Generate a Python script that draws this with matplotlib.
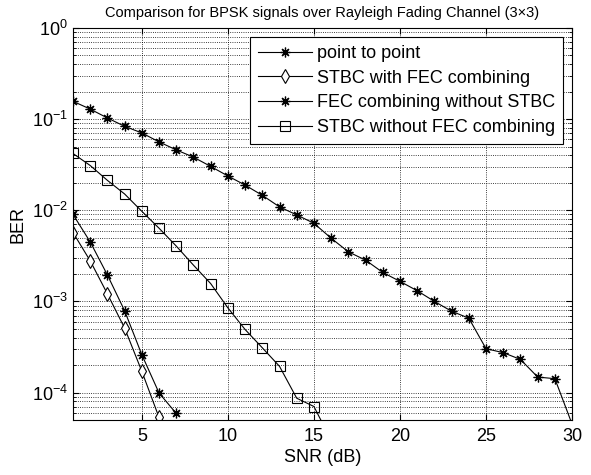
import numpy as np
import matplotlib
matplotlib.use("Agg")
import matplotlib.pyplot as plt

plt.rcParams['font.family'] = ['Liberation Sans', 'DejaVu Sans']

# SNR values in dB
snr = np.arange(1, 31)

# point to point (asterisk)
ber_p2p = [0.157, 0.129, 0.103, 0.0835, 0.0706, 0.0563, 0.046, 0.0383, 0.0303, 0.0238,
           0.0189, 0.0146, 0.0109, 0.0089, 0.0072, 0.00494, 0.0035, 0.00284, 0.00208, 0.00166,
           0.00131, 0.00100, 0.00078, 0.000655, 0.000303, 0.000274, 0.000231, 0.000148, 0.000142, 0.000045]

# STBC with FEC combining (diamond)
snr_stbc_fec = [1, 2, 3, 4, 5, 6]
ber_stbc_fec = [0.0057, 0.00279, 0.00121, 0.00051, 0.000171, 0.0000533]

# FEC combining without STBC (asterisk)
snr_fec = [1, 2, 3, 4, 5, 6, 7]
ber_fec = [0.0090, 0.0045, 0.00195, 0.00079, 0.00026, 0.000099, 0.000059]

# STBC without FEC combining (square)
snr_stbc = [1, 2, 3, 4, 5, 6, 7, 8, 9, 10, 11, 12, 13, 14, 15, 16]
ber_stbc = [0.042, 0.031, 0.0213, 0.0151, 0.00975, 0.00636, 0.00405, 0.0025, 0.00157, 0.00085,
            0.000492, 0.00031, 0.000194, 0.0000867, 0.0000703, 0.000030]

star = (8, 2, 0)

fig = plt.figure(figsize=(5.91, 4.75), dpi=100)
ax = fig.add_axes([0.1235, 0.1158, 0.8445, 0.8252])

ax.semilogy(snr, ber_p2p, '-', color='k', lw=0.8, marker=star, ms=7, mew=0.9, label='point to point')
ax.semilogy(snr_stbc_fec, ber_stbc_fec, '-', color='k', lw=0.8, marker='d', ms=7, mfc='white', mew=0.8,
            label='STBC with FEC combining')
ax.semilogy(snr_fec, ber_fec, '-', color='k', lw=0.8, marker=star, ms=7, mew=0.9,
            label='FEC combining without STBC')
ax.semilogy(snr_stbc, ber_stbc, '-', color='k', lw=0.8, marker='s', ms=7, mfc='none', mew=0.8,
            label='STBC without FEC combining')

ax.set_xlim(1, 30)
ax.set_ylim(5e-5, 1)
ax.set_xticks([5, 10, 15, 20, 25, 30])
ax.set_yticks([1e-4, 1e-3, 1e-2, 1e-1, 1e0])

ax.grid(True, which='major', axis='x', linestyle=':', color='k', lw=0.6)
ax.grid(True, which='both', axis='y', linestyle=':', color='k', lw=0.6)
ax.tick_params(which='both', direction='in', top=True, right=True, labelsize=13)
ax.tick_params(axis='x', pad=6)
ax.tick_params(which='major', length=4)
ax.tick_params(which='minor', length=2)
for s in ax.spines.values():
    s.set_linewidth(0.8)

ax.set_xlabel('SNR (dB)', fontsize=13, labelpad=3)
ax.set_ylabel('BER', fontsize=13, labelpad=4)
ax.set_title('Comparison for BPSK signals over Rayleigh Fading Channel (3\u00d73)', fontsize=10.5, pad=8)

leg = ax.legend(loc='upper right', fontsize=13, handlelength=3.0, fancybox=False, framealpha=1,
                edgecolor='k', borderaxespad=0.5, labelspacing=0.42, handletextpad=0.25,
                borderpad=0.45)
leg.get_frame().set_linewidth(0.8)

fig.savefig('out.png', dpi=100)
